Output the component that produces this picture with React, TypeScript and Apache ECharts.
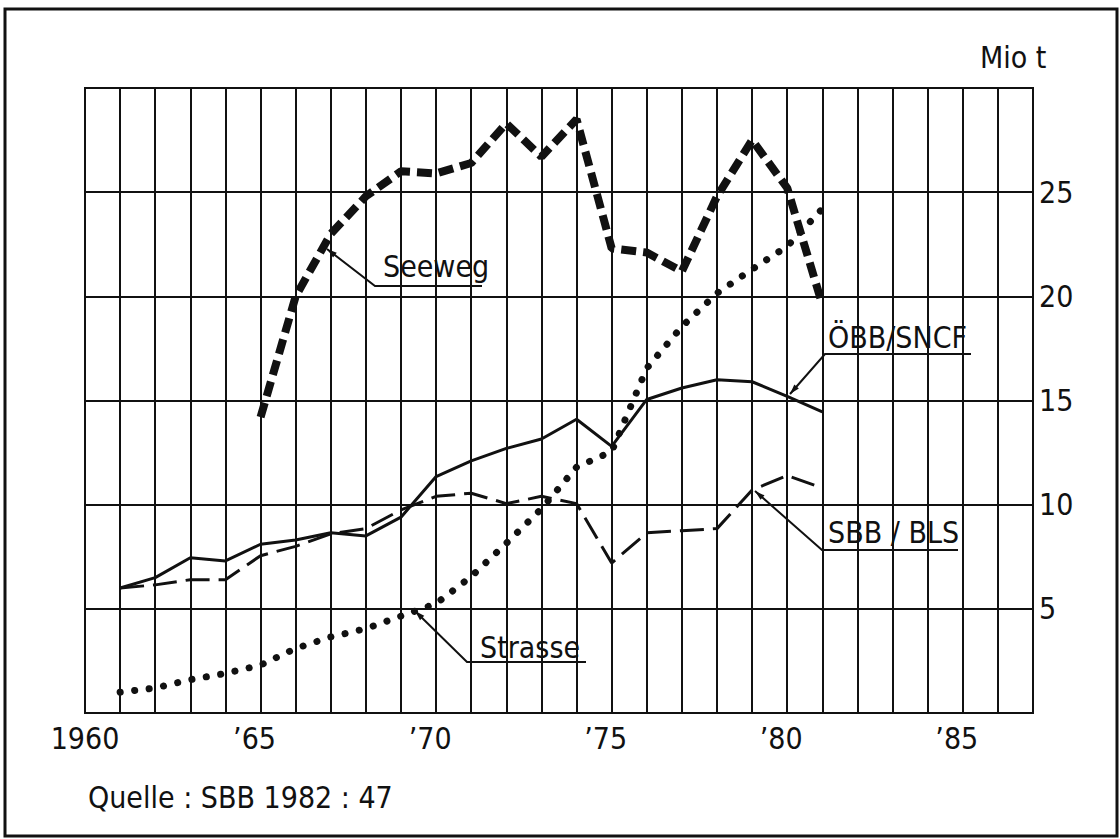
import React, { useEffect, useRef } from "react";
import * as echarts from "echarts";

// ---- data (Mio t) ----
const years: number[] = [1961, 1962, 1963, 1964, 1965, 1966, 1967, 1968, 1969, 1970, 1971, 1972, 1973, 1974, 1975, 1976, 1977, 1978, 1979, 1980, 1981];
const obbSncf: number[] = [6.0, 6.5, 7.45, 7.3, 8.1, 8.3, 8.65, 8.5, 9.4, 11.35, 12.1, 12.7, 13.15, 14.1, 12.8, 15.05, 15.6, 16.0, 15.9, 15.2, 14.45];
const sbbBls: number[] = [6.0, 6.15, 6.4, 6.4, 7.55, 8.0, 8.6, 8.85, 9.75, 10.4, 10.55, 10.05, 10.4, 10.05, 7.2, 8.65, 8.75, 8.85, 10.7, 11.4, 10.8];
const strasse: number[] = [1.0, 1.2, 1.6, 1.9, 2.3, 3.1, 3.65, 4.05, 4.65, 5.25, 6.55, 8.15, 9.8, 11.8, 12.55, 16.55, 18.55, 20.15, 21.3, 22.4, 24.2];
const seewegYears: number[] = [1965, 1966, 1967, 1968, 1969, 1970, 1971, 1972, 1973, 1974, 1975, 1976, 1977, 1978, 1979, 1980, 1981];
const seeweg: number[] = [14.2, 20.0, 23.0, 24.8, 26.0, 25.9, 26.4, 28.3, 26.7, 28.5, 22.3, 22.1, 21.2, 24.8, 27.5, 25.2, 19.6];

const xLabelYears: number[] = [1960, 1965, 1970, 1975, 1980, 1985];
const xLabelTexts: string[] = ["1960", "\u201965", "\u201970", "\u201975", "\u201980", "\u201985"];
const yLabelValues: number[] = [5, 10, 15, 20, 25];
const yLabelTexts: string[] = ["5", "10", "15", "20", "25"];

const FONT = "'Liberation Sans Narrow', 'DejaVu Sans Condensed', 'Liberation Sans', sans-serif";
const INK = "#111";

function pairs(xs: number[], ys: number[]) {
  return xs.map((x, i) => [x, ys[i]]);
}

function arrowHead(x1: number, y1: number, x2: number, y2: number) {
  // arrow at (x2,y2) pointing from (x1,y1)
  const dx = x2 - x1;
  const dy = y2 - y1;
  const len = Math.sqrt(dx * dx + dy * dy);
  const ux = dx / len;
  const uy = dy / len;
  const L = 10;
  const W = 3;
  const bx = x2 - ux * L;
  const by = y2 - uy * L;
  return {
    type: "polygon",
    shape: { points: [[x2, y2], [bx - uy * W, by + ux * W], [bx + uy * W, by - ux * W]] },
    style: { fill: INK },
    z: 100,
  };
}

function leader(text: string, tx: number, ty: number, ux1: number, ux2: number, uy: number, tipX: number, tipY: number) {
  return [
    {
      type: "text",
      left: undefined,
      x: tx,
      y: ty,
      style: { text, fill: INK, font: `30px ${FONT}`, textAlign: "left", textVerticalAlign: "middle" },
      z: 100,
    },
    {
      type: "polyline",
      shape: { points: [[ux2, uy], [ux1, uy], [tipX, tipY]] },
      style: { stroke: INK, lineWidth: 2, fill: "none" },
      z: 100,
    },
    arrowHead(ux1, uy, tipX, tipY),
  ];
}

export default function App() {
  const ref = useRef<HTMLDivElement>(null);
  useEffect(() => {
    if (!ref.current) return;
    const chart = echarts.init(ref.current, undefined, { renderer: "svg" });
    const option: any = {
      animation: false,
      backgroundColor: "#fff",
      grid: {
        left: 85,
        right: 87,
        top: 88,
        bottom: 126,
        show: true,
        borderColor: INK,
        borderWidth: 2,
        backgroundColor: "transparent",
      },
      xAxis: {
        type: "value",
        min: 1960,
        max: 1987,
        interval: 1,
        axisLine: { show: false },
        axisTick: { show: false },
        splitLine: { show: true, lineStyle: { color: INK, width: 2 } },
        axisLabel: {
          show: true,
          margin: 10,
          fontSize: 30,
          fontFamily: FONT,
          color: INK,
          formatter: (v: number) => {
            const i = xLabelYears.indexOf(Math.round(v));
            if (i < 0) return "";
            return i === 0 ? `{a|${xLabelTexts[i]}}` : `{b|${xLabelTexts[i]}}`;
          },
          rich: {
            a: { fontSize: 30, fontFamily: FONT, color: INK },
            b: { fontSize: 30, fontFamily: FONT, color: INK, padding: [0, 12, 0, 0] },
          },
        },
      },
      yAxis: {
        type: "value",
        position: "right",
        min: 0,
        max: 30,
        interval: 5,
        axisLine: { show: false },
        axisTick: { show: false },
        splitLine: { show: true, lineStyle: { color: INK, width: 2 } },
        axisLabel: {
          margin: 6,
          fontSize: 30,
          fontFamily: FONT,
          color: INK,
          formatter: (v: number) => {
            const i = yLabelValues.indexOf(Math.round(v));
            return i < 0 ? "" : yLabelTexts[i];
          },
        },
      },
      series: [
        {
          name: "Strasse",
          type: "line",
          data: pairs(years, strasse),
          symbol: "none",
          lineStyle: { color: INK, width: 7, type: [0.1, 14.5], cap: "round" },
          z: 3,
        },
        {
          name: "SBB / BLS",
          type: "line",
          data: pairs(years, sbbBls),
          symbol: "none",
          lineStyle: { color: INK, width: 3, type: [24, 9] },
          z: 4,
        },
        {
          name: "ÖBB/SNCF",
          type: "line",
          data: pairs(years, obbSncf),
          symbol: "none",
          lineStyle: { color: INK, width: 3, type: "solid" },
          z: 5,
        },
        {
          name: "Seeweg",
          type: "line",
          data: pairs(seewegYears, seeweg),
          symbol: "none",
          lineStyle: { color: INK, width: 8, type: [15, 7] },
          z: 6,
        },
      ],
      graphic: [
        {
          type: "rect",
          shape: { x: 5, y: 9, width: 1112, height: 827 },
          style: { stroke: INK, lineWidth: 3, fill: "none" },
          z: 100,
        },
        {
          type: "text",
          x: 980,
          y: 57,
          style: { text: "Mio t", fill: INK, font: `30px ${FONT}`, textAlign: "left", textVerticalAlign: "middle" },
          z: 100,
        },
        ...leader("Seeweg", 383, 266, 375, 482, 286, 327, 249),
        ...leader("ÖBB/SNCF", 828, 337, 825, 971, 354, 790, 394),
        ...leader("SBB / BLS", 828, 532, 822, 958, 550, 755, 491),
        ...leader("Strasse", 480, 647, 467, 586, 662, 415, 611),
        {
          type: "text",
          x: 88,
          y: 797,
          style: { text: "Quelle : SBB 1982 : 47", fill: INK, font: `30px ${FONT}`, textAlign: "left", textVerticalAlign: "middle" },
          z: 100,
        },
      ],
    };
    chart.setOption(option);
    return () => chart.dispose();
  }, []);
  return (
    <div
      ref={ref}
      style={{ position: "fixed", left: 0, top: 0, width: 1120, height: 839, background: "#fff" }}
    />
  );
}
